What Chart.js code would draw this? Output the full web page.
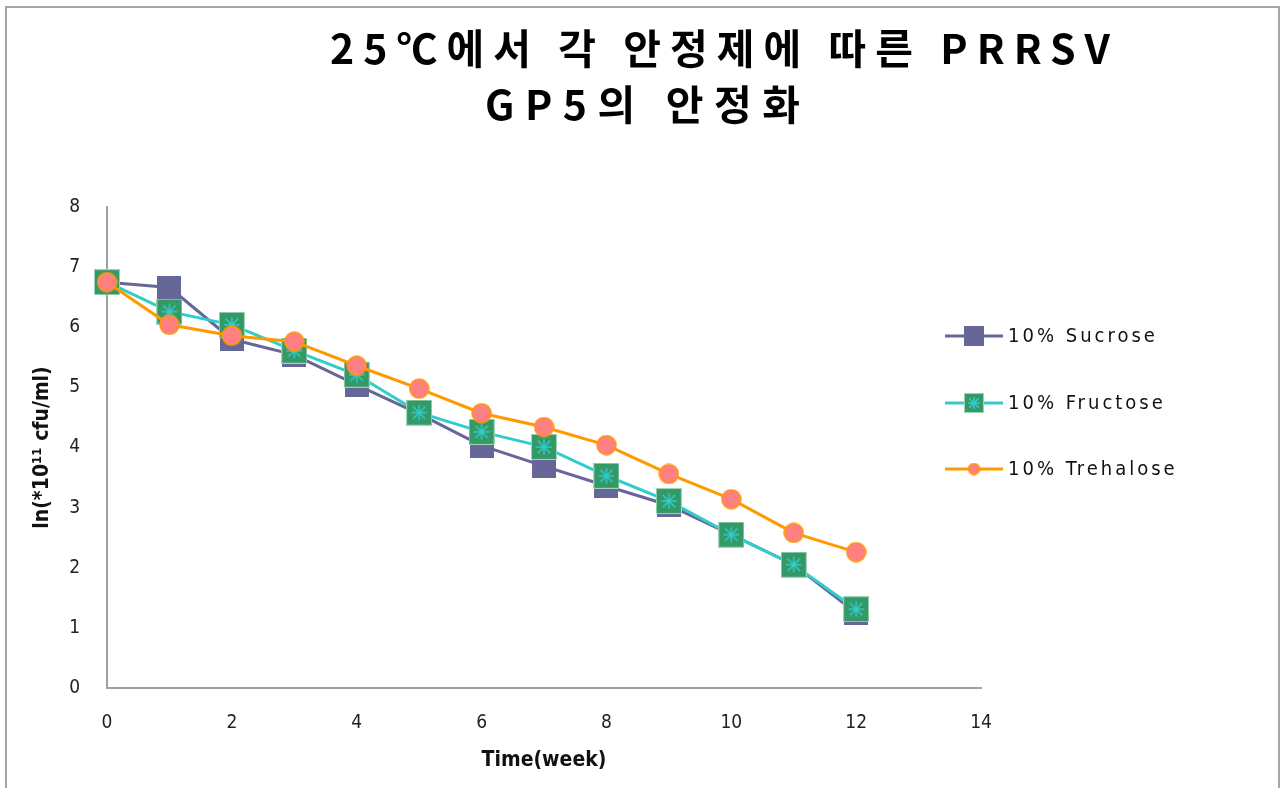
<!DOCTYPE html>
<html>
<head>
<meta charset="utf-8">
<script src="https://cdn.jsdelivr.net/npm/chart.js@4"></script>
<style>
  html, body { margin: 0; padding: 0; background: #fff; }
  #wrap { width: 1284px; height: 788px; position: relative; }
</style>
</head>
<body>
<div id="wrap"><canvas id="chart"></canvas></div>
<script>
// ── Data ───────────────────────────────────────────────────────
const weeks = [0, 1, 2, 3, 4, 5, 6, 7, 8, 9, 10, 11, 12];
const sucrose   = [6.75, 6.66, 5.80, 5.54, 5.04, 4.56, 4.03, 3.69, 3.36, 3.04, 2.55, 2.05, 1.25];
const fructose  = [6.75, 6.26, 6.04, 5.61, 5.21, 4.58, 4.26, 4.01, 3.53, 3.11, 2.55, 2.05, 1.31];
const trehalose = [6.75, 6.04, 5.86, 5.76, 5.36, 4.98, 4.57, 4.34, 4.04, 3.56, 3.14, 2.58, 2.26];
const seriesNames = ['10% Sucrose', '10% Fructose', '10% Trehalose'];
const titleLines = ['25℃에서 각 안정제에 따른 PRRSV', 'GP5의 안정화'];
const xTitle = 'Time(week)';
const yTitle = 'ln(*10¹¹ cfu/ml)';

// ── Marker images ──────────────────────────────────────────────
function makeMarker(kind, size) {
  const c = document.createElement('canvas');
  c.width = size; c.height = size;
  const g = c.getContext('2d');
  if (kind === 'sucrose') {
    g.fillStyle = '#666699';
    g.fillRect(0, 0, size, size);
  } else if (kind === 'fructose') {
    g.fillStyle = '#339966';
    g.fillRect(0, 0, size, size);
    g.strokeStyle = '#9fd3b6';
    g.lineWidth = 1;
    g.strokeRect(0.5, 0.5, size - 1, size - 1);
    g.strokeStyle = '#33CCCC';
    g.lineWidth = size > 16 ? 1.5 : 1;
    const m = size / 2, r = size * 0.3;
    g.beginPath();
    g.moveTo(m, m - r); g.lineTo(m, m + r);
    g.moveTo(m - r, m); g.lineTo(m + r, m);
    g.moveTo(m - r * 0.8, m - r * 0.8); g.lineTo(m + r * 0.8, m + r * 0.8);
    g.moveTo(m + r * 0.8, m - r * 0.8); g.lineTo(m - r * 0.8, m + r * 0.8);
    g.stroke();
  } else {
    g.fillStyle = '#FF8080';
    g.strokeStyle = '#FF9900';
    g.lineWidth = 1.5;
    g.beginPath();
    g.arc(size / 2, size / 2, size / 2 - 1, 0, Math.PI * 2);
    g.fill();
    g.stroke();
  }
  return c;
}

const markers = {
  sucrose: makeMarker('sucrose', 24),
  fructose: makeMarker('fructose', 26),
  trehalose: makeMarker('trehalose', 21)
};
const legendMarkers = {
  sucrose: makeMarker('sucrose', 20),
  fructose: makeMarker('fructose', 20),
  trehalose: makeMarker('trehalose', 13)
};

function points(values) {
  return weeks.map((w, i) => ({ x: w, y: values[i] }));
}

// ── Plugins: frame, title, legend ──────────────────────────────
const framePlugin = {
  id: 'frame',
  beforeDraw(chart) {
    const ctx = chart.ctx;
    ctx.save();
    ctx.fillStyle = '#fff';
    ctx.fillRect(0, 0, chart.width, chart.height);
    ctx.strokeStyle = '#a6a6a6';
    ctx.lineWidth = 2;
    ctx.strokeRect(6, 7, 1273, 800);
    ctx.restore();
  }
};

// stretch text to a given width with letter spacing
function spreadText(ctx, text, x, y, w) {
  ctx.letterSpacing = '0px';
  const plain = ctx.measureText(text).width;
  const n = [...text].length;
  const ls = Math.max(0, (w - plain) / (n - 1));
  ctx.letterSpacing = ls + 'px';
  ctx.fillText(text, x, y);
  ctx.letterSpacing = '0px';
}

const titlePlugin = {
  id: 'bigTitle',
  afterDraw(chart) {
    const ctx = chart.ctx;
    ctx.save();
    ctx.fillStyle = '#000';
    ctx.font = 'bold 41px "Noto Sans CJK KR"';
    ctx.textBaseline = 'alphabetic';
    ctx.textAlign = 'left';
    spreadText(ctx, titleLines[0], 330, 64, 780);
    spreadText(ctx, titleLines[1], 485, 120, 315);
    ctx.restore();
  }
};

const legendPlugin = {
  id: 'sideLegend',
  afterDraw(chart) {
    const ctx = chart.ctx;
    const keys = ['sucrose', 'fructose', 'trehalose'];
    const rowsY = [336, 403, 469];
    ctx.save();
    chart.data.datasets.forEach((ds, i) => {
      const y = rowsY[i];
      ctx.strokeStyle = ds.borderColor;
      ctx.lineWidth = 3;
      ctx.beginPath();
      ctx.moveTo(945, y);
      ctx.lineTo(1003, y);
      ctx.stroke();
      const m = legendMarkers[keys[i]];
      ctx.drawImage(m, 974 - m.width / 2, y - m.height / 2);
      ctx.fillStyle = '#111';
      ctx.font = '20px "DejaVu Sans Condensed"';
      ctx.textBaseline = 'middle';
      ctx.letterSpacing = '3px';
      ctx.fillText(ds.label, 1008, y + 1);
    });
    ctx.restore();
  }
};

// ── Chart ──────────────────────────────────────────────────────
const tickFont = { family: 'DejaVu Sans Condensed', size: 19 };
const axisTitleFont = { family: 'DejaVu Sans Condensed', size: 21, weight: 'bold' };

new Chart(document.getElementById('chart'), {
  type: 'line',
  data: {
    datasets: [
      {
        label: seriesNames[0],
        data: points(sucrose),
        borderColor: '#666699',
        borderWidth: 3,
        pointStyle: markers.sucrose,
        order: 3,
        clip: false
      },
      {
        label: seriesNames[1],
        data: points(fructose),
        borderColor: '#33CCCC',
        borderWidth: 3,
        pointStyle: markers.fructose,
        order: 2,
        clip: false
      },
      {
        label: seriesNames[2],
        data: points(trehalose),
        borderColor: '#FF9900',
        borderWidth: 3,
        pointStyle: markers.trehalose,
        order: 1,
        clip: false
      }
    ]
  },
  options: {
    responsive: true,
    maintainAspectRatio: false,
    animation: false,
    events: [],
    layout: { padding: { left: 0, top: 207, right: 303, bottom: 0 } },
    plugins: {
      legend: { display: false },
      title: { display: false },
      tooltip: { enabled: false }
    },
    scales: {
      x: {
        type: 'linear',
        min: 0,
        max: 14,
        grid: { display: false, drawTicks: false },
        border: { display: true, color: '#a0a0a0', width: 2 },
        ticks: { stepSize: 2, color: '#222', font: tickFont, padding: 24 },
        title: {
          display: true,
          text: xTitle,
          color: '#111',
          font: axisTitleFont,
          padding: { top: 0, bottom: 15 }
        },
        afterFit(scale) { scale.height = 100; }
      },
      y: {
        min: 0,
        max: 8,
        grid: { display: false, drawTicks: false },
        border: { display: true, color: '#a0a0a0', width: 2 },
        ticks: { stepSize: 1, color: '#222', font: tickFont, padding: 27 },
        title: {
          display: true,
          text: yTitle,
          color: '#111',
          font: axisTitleFont,
          padding: { top: 30, bottom: 0 }
        },
        afterFit(scale) { scale.width = 107; }
      }
    }
  },
  plugins: [framePlugin, titlePlugin, legendPlugin]
});
</script>
</body>
</html>
